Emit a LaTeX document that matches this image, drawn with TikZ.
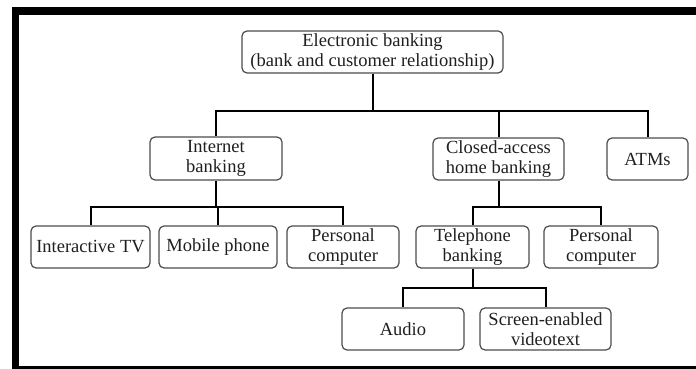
\documentclass[tikz,border=0pt]{standalone}
\usepackage{fontspec}
\setmainfont{Liberation Serif}
\begin{document}
\begin{tikzpicture}[x=1pt,y=-1pt,
  box/.style={draw=black!70, line width=1.2pt, rounded corners=5pt, align=center,
    inner sep=0pt, text=black!88, font=\fontsize{18.5}{20.5}\selectfont},
  conn/.style={line width=2pt, black}]
\useasboundingbox (0,0) rectangle (696,369);
% frame
\fill[black] (12,7) rectangle (696,15);
\fill[black] (12,7) rectangle (19,369);
\fill[black] (12,366) rectangle (696,369);
% nodes
\node[box, minimum width=261, minimum height=42] (root) at (372.5,52) {Electronic banking\\(bank and customer relationship)};
\node[box, minimum width=132, minimum height=43] (ib) at (216,158.5) {Internet\\banking};
\node[box, minimum width=131, minimum height=42] (cab) at (498.5,159) {Closed-access\\home banking};
\node[box, minimum width=81, minimum height=42] (atm) at (647.5,159) {ATMs};
\node[box, minimum width=119, minimum height=42] (itv) at (90.5,247) {Interactive TV};
\node[box, minimum width=118, minimum height=42] (mob) at (218,247) {Mobile phone};
\node[box, minimum width=112, minimum height=42] (pc1) at (343,247) {Personal\\computer};
\node[box, minimum width=113, minimum height=42] (tel) at (472.5,247) {Telephone\\banking};
\node[box, minimum width=114, minimum height=42] (pc2) at (601,247) {Personal\\computer};
\node[box, minimum width=122, minimum height=42] (aud) at (403,329) {Audio};
\node[box, minimum width=131, minimum height=42] (scr) at (545.5,329) {Screen-enabled\\videotext};
% buses
\coordinate (bus1) at (0,111);
\coordinate (bus2) at (0,207);
\coordinate (bus3) at (0,288);
% connectors
\draw[conn] (root.south) -- (root.south |- bus1);
\draw[conn] (ib.north) |- (bus1 -| atm.north) -- (atm.north);
\draw[conn] (cab.north) -- (cab.north |- bus1);
\draw[conn] (ib.south) -- (ib.south |- bus2);
\draw[conn] (itv.north) |- (bus2 -| pc1.north) -- (pc1.north);
\draw[conn] (mob.north) -- (mob.north |- bus2);
\draw[conn] (cab.south) -- (cab.south |- bus2);
\draw[conn] (tel.north) |- (bus2 -| pc2.north) -- (pc2.north);
\draw[conn] (tel.south) -- (tel.south |- bus3);
\draw[conn] (aud.north) |- (bus3 -| scr.north) -- (scr.north);
\end{tikzpicture}
\end{document}
